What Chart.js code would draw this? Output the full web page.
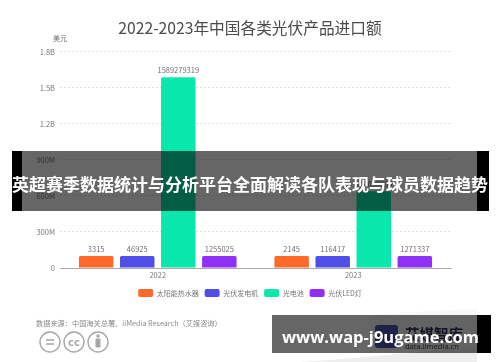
<!DOCTYPE html>
<html>
<head>
<meta charset="utf-8">
<script src="https://cdn.jsdelivr.net/npm/chart.js@4"></script>
<style>
html, body { margin: 0; padding: 0; background: #fff; }
#wrap { position: relative; width: 500px; height: 362px; overflow: hidden; font-family: "Noto Sans CJK SC", sans-serif; }
#myChart { position: absolute; left: 0; top: 0; filter: blur(0.35px); }
.abs { position: absolute; }
#source { left: 36px; top: 317px; font-size: 7.2px; color: #8a8a8a; white-space: nowrap; line-height: 12px; }
#logoName { left: 405px; top: 325px; font-size: 14.5px; font-weight: 700; color: #2b3350; white-space: nowrap; line-height: 18px; }
#logoSub { left: 405px; top: 341px; font-size: 7.5px; color: #444; white-space: nowrap; line-height: 10px; font-family: "Noto Sans", sans-serif; }
.shade { background: rgba(0,0,0,.6); }
.solid { background: #000; }
.bannerText { color: #fff; font-weight: 700; white-space: nowrap; text-align: center; }
#midText { left: 0; width: 500px; top: 151px; height: 60px; line-height: 65px; font-size: 17px; }
#lowText { left: 281px; width: 199px; top: 315px; height: 38px; line-height: 44px; font-size: 16.5px; font-family: "Open Sans", sans-serif; }
</style>
</head>
<body>
<div id="wrap">
  <canvas id="myChart" width="500" height="362"></canvas>

  <svg class="abs" style="left:0;top:0" width="500" height="362">
    <path d="M300 362 C360 358 420 352 477 346 L477 362 Z" fill="#eeeeee"/>
    <path d="M370 315 C410 312 450 310 477 309 L477 346 C440 350 400 350 370 352 Z" fill="#f8f8f8"/>
    <g fill="none" stroke="#a8a8a8" stroke-width="1.4">
      <circle cx="50" cy="342" r="10"/>
      <circle cx="74" cy="342" r="10"/>
      <circle cx="98" cy="342" r="10"/>
    </g>
    <g stroke="#a8a8a8" stroke-width="1.6">
      <line x1="46" y1="340" x2="54" y2="340"/>
      <line x1="46" y1="344" x2="54" y2="344"/>
    </g>
    <text x="74" y="345.5" font-size="10" font-weight="700" text-anchor="middle" fill="#a8a8a8" font-family="DejaVu Sans">cc</text>
    <g fill="#a8a8a8">
      <circle cx="98" cy="336" r="1.7"/>
      <rect x="95.5" y="338.5" width="5" height="9" rx="1"/>
    </g>
    <rect x="375" y="325" width="23" height="23" rx="3" fill="#4a55b0"/>
  </svg>

  <div class="abs" id="source">数据来源：中国海关总署、iiMedia Research（艾媒咨询）</div>
  <div class="abs" id="logoName">艾媒智库</div>
  <div class="abs" id="logoSub">data.iimedia.cn</div>

  <div class="abs solid" style="left:12px;top:151px;width:10px;height:60px"></div>
  <div class="abs shade" style="left:22px;top:151px;width:455px;height:60px"></div>
  <div class="abs solid" style="left:477px;top:151px;width:12px;height:60px"></div>
  <div class="abs bannerText" id="midText">英超赛季数据统计与分析平台全面解读各队表现与球员数据趋势</div>

  <div class="abs shade" style="left:272px;top:315px;width:205px;height:38px"></div>
  <div class="abs solid" style="left:477px;top:315px;width:14px;height:38px"></div>
  <div class="abs bannerText" id="lowText">www.wap-j9ugame.com</div>
</div>

<script>
const titleText = "2022-2023年中国各类光伏产品进口额";
const unitText = "美元";
const years = ["2022", "2023"];
const yTickValues = [0, 300000000, 600000000, 900000000, 1200000000, 1500000000, 1800000000];
const yTickLabels = ["0", "300M", "600M", "900M", "1.2B", "1.5B", "1.8B"];

const seriesNames = ["太阳能热水器", "光伏发电机", "光电池", "光伏LED灯"];
const seriesColors = ["#ff6a2b", "#4f4fe8", "#08e8ac", "#9130f5"];

// bar heights as drawn in the picture (small bars are not to scale there)
const solarHeater = [100000000, 100000000];
const pvGenerator = [100000000, 100000000];
const pvCell = [1589279319, 640000000];
const pvLed = [100000000, 100000000];
const allHeights = [solarHeater, pvGenerator, pvCell, pvLed];

// numbers printed over the bars
const solarHeaterLabels = ["3315", "2145"];
const pvGeneratorLabels = ["46925", "116417"];
const pvCellLabels = ["1589279319", "640000000"];
const pvLedLabels = ["1255025", "1271337"];
const allLabels = [solarHeaterLabels, pvGeneratorLabels, pvCellLabels, pvLedLabels];

const fontFamily = '"Noto Sans CJK SC", "Noto Sans", sans-serif';

// prints the numbers over the bars and the unit over the y axis
const barLabels = {
    id: "barLabels",
    afterDatasetsDraw(chart) {
        const c = chart.ctx;
        c.save();
        c.font = "7.5px " + fontFamily;
        c.fillStyle = "#6e6e6e";
        c.textAlign = "center";
        c.textBaseline = "middle";
        chart.data.datasets.forEach((ds, i) => {
            chart.getDatasetMeta(i).data.forEach((bar, j) => {
                c.fillText(allLabels[i][j], bar.x, bar.y - 7);
            });
        });
        c.font = "7px " + fontFamily;
        c.fillText(unitText, chart.scales.x.left, chart.scales.y.top - 13);
        c.restore();
    }
};

new Chart(document.getElementById("myChart"), {
    type: "bar",
    data: {
        labels: years,
        datasets: seriesNames.map((name, i) => ({
            label: name,
            data: allHeights[i],
            backgroundColor: seriesColors[i],
            borderRadius: 1.5,
            categoryPercentage: 0.84,
            barPercentage: 0.84
        }))
    },
    plugins: [barLabels],
    options: {
        responsive: false,
        animation: false,
        layout: { padding: { top: 19, left: 0, right: 0, bottom: 55 } },
        plugins: {
            tooltip: { enabled: false },
            title: {
                display: true,
                text: titleText,
                color: "#4a4a4a",
                font: { size: 15.7, weight: "normal", family: fontFamily },
                padding: { top: 0, bottom: 14 }
            },
            legend: {
                position: "bottom",
                labels: {
                    boxWidth: 15,
                    boxHeight: 8,
                    useBorderRadius: true,
                    borderRadius: 2,
                    padding: 6,
                    color: "#777",
                    font: { size: 7, family: fontFamily }
                }
            }
        },
        scales: {
            x: {
                grid: { display: false, drawTicks: false },
                border: { color: "#aaaaaa" },
                ticks: { color: "#777", padding: 3, font: { size: 7.5, family: fontFamily } }
            },
            y: {
                min: 0,
                max: 1800000000,
                afterFit(scale) { scale.width = 60; },
                afterBuildTicks(scale) { scale.ticks = yTickValues.map((v) => ({ value: v })); },
                grid: { color: "#dfdfdf", drawTicks: false },
                border: { display: false, dash: [2, 2] },
                ticks: {
                    color: "#777",
                    padding: 5,
                    font: { size: 7.5, family: fontFamily },
                    callback(value) { return yTickLabels[yTickValues.indexOf(value)]; }
                }
            },
            // empty axis, only keeps the plot narrower than the title and legend
            yRight: {
                position: "right",
                afterFit(scale) { scale.width = 49; },
                grid: { display: false, drawTicks: false },
                border: { display: false },
                ticks: { display: false }
            }
        }
    }
});
</script>
</body>
</html>
